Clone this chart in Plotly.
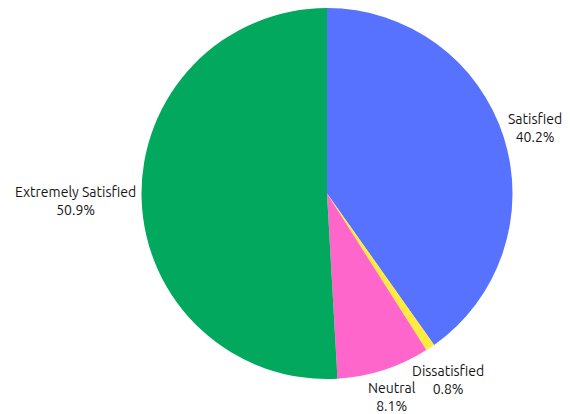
import math
import plotly.graph_objects as go

labels = ["Satisfied", "Dissatisfied", "Neutral", "Extremely Satisfied"]
values = [40.2, 0.8, 8.1, 50.9]
colors = ["#5672FE", "#FFEB3B", "#FF66CC", "#02A85E"]

W, H = 570, 414
CX, CY, R = 319.0, 185.5, 185.5   # pie centre / radius in figure pixels
FONT = dict(family="Ubuntu, Lato, sans-serif", size=14, color="#161616")

# label placement relative to each slice's outer mid point (anchor, shift in px)
label_style = [
    dict(xanchor="left", yanchor="middle", xshift=2, yshift=9),
    dict(xanchor="center", yanchor="top", xshift=18, yshift=-13),
    dict(xanchor="center", yanchor="top", xshift=8, yshift=-8),
    dict(xanchor="right", yanchor="middle", xshift=-4, yshift=-2),
]

fig = go.Figure()
fig.add_trace(go.Pie(
    labels=labels,
    values=values,
    sort=False,
    direction="clockwise",
    rotation=0,
    marker=dict(colors=colors, line=dict(width=0)),
    textinfo="none",
    domain=dict(x=[(CX - R) / W, (CX + R) / W],
                y=[1 - (CY + R) / H, 1 - (CY - R) / H]),
    showlegend=False,
    hoverinfo="label+percent",
))

total = sum(values)
cum = 0.0
annotations = []
for lab, v, st in zip(labels, values, label_style):
    mid = (cum + v / 2) / total * 2 * math.pi
    cum += v
    annotations.append(dict(
        x=CX + R * math.sin(mid), y=CY - R * math.cos(mid),
        xref="x", yref="y", showarrow=False,
        text=f"{lab}<br>{v / total * 100:.1f}%",
        align="center", font=FONT, **st,
    ))

fig.update_layout(
    width=W, height=H,
    margin=dict(l=0, r=0, t=0, b=0),
    paper_bgcolor="white",
    plot_bgcolor="rgba(0,0,0,0)",
    xaxis=dict(range=[0, W], visible=False, fixedrange=True),
    yaxis=dict(range=[H, 0], visible=False, fixedrange=True),
    annotations=annotations,
)
fig.write_html("out.html")
